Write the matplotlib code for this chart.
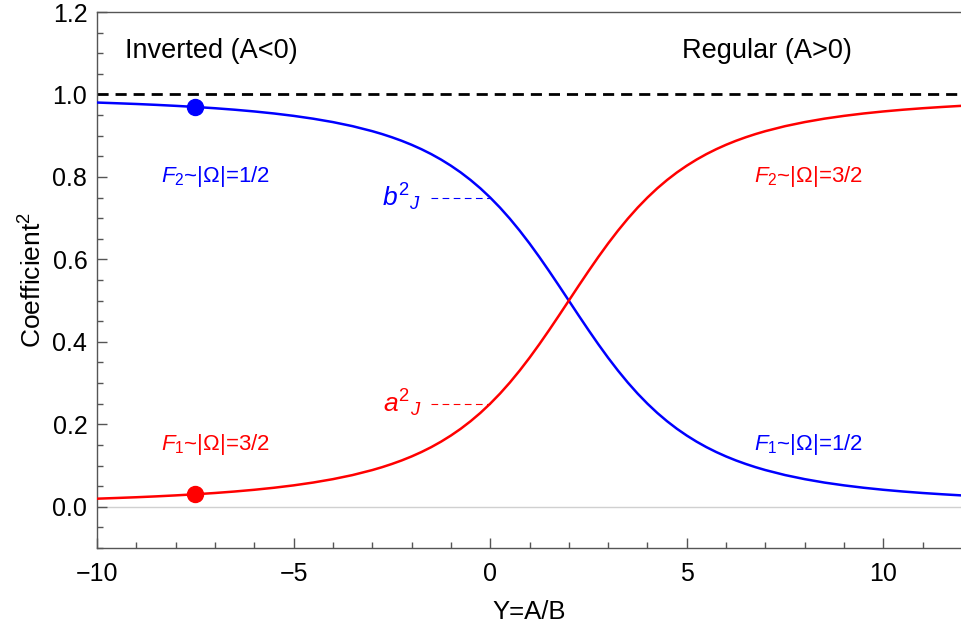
import matplotlib
matplotlib.use("Agg")
import matplotlib.pyplot as plt
from matplotlib.ticker import MultipleLocator

plt.rcParams['font.family'] = ['Liberation Sans', 'DejaVu Sans']
plt.rcParams['mathtext.fontset'] = 'custom'
plt.rcParams['mathtext.rm'] = 'Liberation Sans'
plt.rcParams['mathtext.it'] = 'Liberation Sans:italic'

# Data
y_ratio = [-10, -9.5, -9, -8.5, -8, -7.5, -7, -6.5, -6, -5.5, -5, -4.5, -4, -3.5,
           -3, -2.75, -2.5, -2.25, -2, -1.75, -1.5, -1.25, -1, -0.75, -0.5, -0.25,
           0, 0.25, 0.5, 0.75, 1, 1.25, 1.5, 1.75, 2, 2.25, 2.5, 2.75, 3, 3.25,
           3.5, 3.75, 4, 4.25, 4.5, 4.75, 5, 5.25, 5.5, 5.75, 6, 6.25, 6.5, 6.75, 7,
           7.5, 8, 8.5, 9, 9.5, 10, 10.5, 11, 11.5, 12]
a_sq = [0.0196, 0.0213, 0.0231, 0.0252, 0.0276, 0.0303, 0.0334, 0.0370, 0.0412,
        0.0461, 0.0519, 0.0588, 0.0670, 0.0769,
        0.0890, 0.0960, 0.1038, 0.1124, 0.1220, 0.1327, 0.1446, 0.1579, 0.1727,
        0.1891, 0.2074, 0.2276,
        0.2500, 0.2745, 0.3013, 0.3303, 0.3613, 0.3942, 0.4286, 0.4640, 0.5000,
        0.5360, 0.5714, 0.6058, 0.6387, 0.6697,
        0.6987, 0.7255, 0.7500, 0.7724, 0.7926, 0.8109, 0.8273, 0.8421, 0.8554,
        0.8673, 0.8780, 0.8876, 0.8962, 0.9040, 0.9110,
        0.9231, 0.9330, 0.9413, 0.9481, 0.9539, 0.9588, 0.9630, 0.9666, 0.9697,
        0.9725]
b_sq = [0.9804, 0.9787, 0.9769, 0.9748, 0.9724, 0.9697, 0.9666, 0.9630, 0.9588,
        0.9539, 0.9481, 0.9412, 0.9330, 0.9231,
        0.9110, 0.9040, 0.8962, 0.8876, 0.8780, 0.8673, 0.8554, 0.8421, 0.8273,
        0.8109, 0.7926, 0.7724,
        0.7500, 0.7255, 0.6987, 0.6697, 0.6387, 0.6058, 0.5714, 0.5360, 0.5000,
        0.4640, 0.4286, 0.3942, 0.3613, 0.3303,
        0.3013, 0.2745, 0.2500, 0.2276, 0.2074, 0.1891, 0.1727, 0.1579, 0.1446,
        0.1327, 0.1220, 0.1124, 0.1038, 0.0960, 0.0890,
        0.0769, 0.0670, 0.0587, 0.0519, 0.0461, 0.0412, 0.0370, 0.0334, 0.0303,
        0.0275]
marker_x = [-7.5]
marker_a = [0.03]
marker_b = [0.97]
guide_x = [-1.5, 0.0]
guide_a = 0.25
guide_b = 0.75
x_ticks = [-10, -5, 0, 5, 10]
y_ticks = [0.0, 0.2, 0.4, 0.6, 0.8, 1.0, 1.2]

BLUE = '#0000ff'
RED = '#ff0000'
FRAME = '#555555'

fig = plt.figure(figsize=(9.62, 6.28), dpi=100)
ax = fig.add_axes([97/962, 1-548/628, 1-97/962, (548-12)/628])

ax.axhline(0, color='#d0d0d0', lw=1.0, zorder=1)
ax.axhline(1.0, color='black', lw=2.0, ls=(0, (4, 2.5)), zorder=2)

ax.plot(y_ratio, b_sq, color=BLUE, lw=1.8, zorder=3)
ax.plot(y_ratio, a_sq, color=RED, lw=1.8, zorder=3)
ax.plot(guide_x, [guide_b, guide_b], color=BLUE, lw=0.8, ls=(0, (6, 4)), zorder=2)
ax.plot(guide_x, [guide_a, guide_a], color=RED, lw=0.8, ls=(0, (6, 4)), zorder=2)
ax.plot(marker_x, marker_b, 'o', color=BLUE, ms=11.5, zorder=4)
ax.plot(marker_x, marker_a, 'o', color=RED, ms=11.5, zorder=4)

ax.set_xlim(-10, 12)
ax.set_ylim(-0.1, 1.2)
ax.set_xticks(x_ticks)
ax.set_xticklabels(['\u221210', '\u22125', '0', '5', '10'])
ax.set_yticks(y_ticks)
ax.set_yticklabels([f'{v:.1f}' for v in y_ticks])
ax.xaxis.set_minor_locator(MultipleLocator(1))
ax.yaxis.set_minor_locator(MultipleLocator(0.05))
ax.tick_params(which='both', direction='in', color=FRAME, top=False, right=False,
               labelsize=18, width=1)
ax.tick_params(which='major', length=7)
ax.tick_params(axis='x', which='major', pad=10)
ax.tick_params(axis='y', which='major', pad=7)
ax.tick_params(which='minor', length=4)
for s in ax.spines.values():
    s.set_color(FRAME)
    s.set_linewidth(1.0)

ax.set_xlabel('Y=A/B', fontsize=18.5, labelpad=10)
ax.set_ylabel('Coefficient$^2$', fontsize=19, labelpad=4)

ax.text(-7.1, 1.105, 'Inverted (A<0)', fontsize=19.5, ha='center', va='center')
ax.text(7.05, 1.105, 'Regular (A>0)', fontsize=19.5, ha='center', va='center')
ax.text(-7.0, 0.80, r'$F_2$~|Ω|=1/2', fontsize=16, color=BLUE, ha='center', va='center')
ax.text(-7.0, 0.15, r'$F_1$~|Ω|=3/2', fontsize=16, color=RED, ha='center', va='center')
ax.text(8.1, 0.80, r'$F_2$~|Ω|=3/2', fontsize=16, color=RED, ha='center', va='center')
ax.text(8.1, 0.15, r'$F_1$~|Ω|=1/2', fontsize=16, color=BLUE, ha='center', va='center')
ax.text(-1.75, 0.75, r'${b^2}_J$', fontsize=19, color=BLUE, ha='right', va='center')
ax.text(-1.75, 0.25, r'${a^2}_J$', fontsize=19, color=RED, ha='right', va='center')

fig.savefig('out.png', dpi=100)
